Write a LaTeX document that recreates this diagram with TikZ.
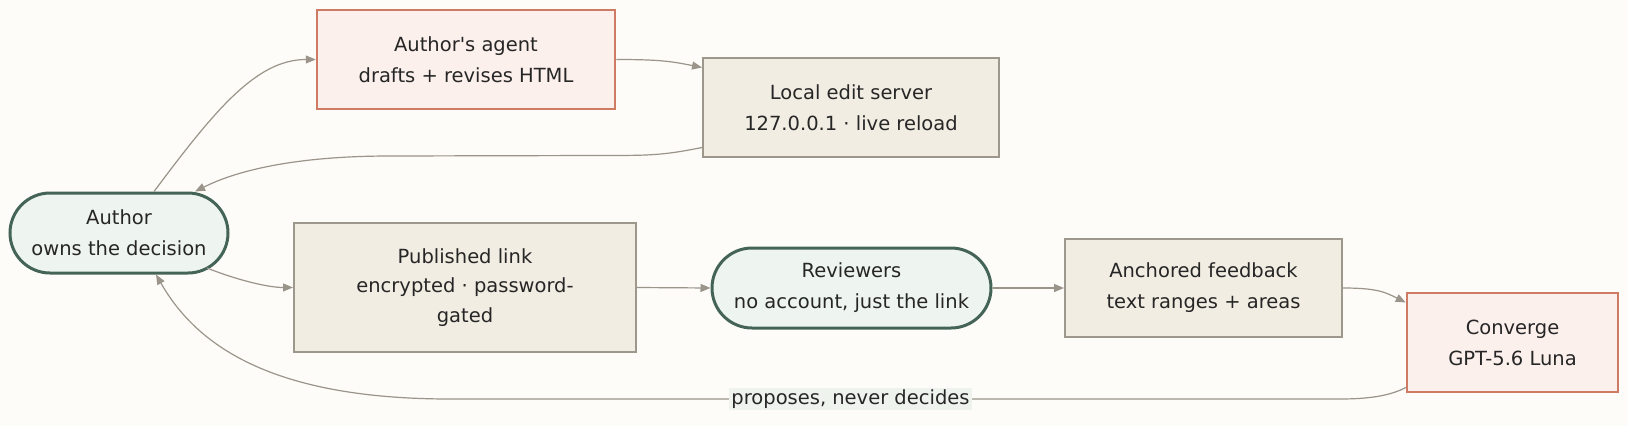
\documentclass[tikz,border=0pt]{standalone}
\usepackage{fontspec}
\setmainfont{DejaVu Sans}
\usetikzlibrary{positioning}
\usetikzlibrary{arrows.meta}

\definecolor{paper}{HTML}{FDFCF8}
\definecolor{ink}{HTML}{262626}
\definecolor{warmfill}{HTML}{FCF0EC}
\definecolor{warmline}{HTML}{CF7A62}
\definecolor{sandfill}{HTML}{F2EDE3}
\definecolor{sandline}{HTML}{9E978C}
\definecolor{actfill}{HTML}{EEF4F0}
\definecolor{actline}{HTML}{456458}
\definecolor{wire}{HTML}{9A948A}
\definecolor{tagfill}{HTML}{EEF3EE}

\begin{document}
\begin{tikzpicture}[x=1pt,y=-1pt,
    box/.style={draw, align=center, inner sep=0pt, text=ink,
      font=\fontsize{19.5}{31}\selectfont},
    agentbox/.style={box, fill=warmfill, draw=warmline, line width=2.5pt},
    plainbox/.style={box, fill=sandfill, draw=sandline, line width=2pt},
    actor/.style={box, fill=actfill, draw=actline, line width=3pt,
      rounded corners=40pt},
    edge/.style={draw=wire, line width=1.2pt,
      -{Triangle[length=10pt,width=8pt]}}]

  \fill[paper] (0,0) rectangle (1628,426);
  \useasboundingbox (0,0) rectangle (1628,426);

  % nodes
  \node[actor, minimum width=218pt, minimum height=80pt] (author) at (119,233)
    {Author\\owns the decision};
  \node[agentbox, minimum width=298pt, minimum height=99pt] (agent) at (466,59.5)
    {Author\textquotesingle s agent\\drafts + revises HTML};
  \node[plainbox, minimum width=296pt, minimum height=99pt] (server) at (851,107.5)
    {Local edit server\\127.0.0.1 · live reload};
  \node[plainbox, minimum width=342pt, minimum height=129pt,
    font=\fontsize{19.5}{29.5}\selectfont] (published) at (465,287.5)
    {Published link\\encrypted · password-\\gated};
  \node[actor, minimum width=279pt, minimum height=80pt] (reviewers) at (851.5,288)
    {Reviewers\\no account, just the link};
  \node[plainbox, minimum width=277pt, minimum height=98pt] (anchored) at (1203.5,288)
    {Anchored feedback\\text ranges + areas};
  \node[agentbox, minimum width=211pt, minimum height=99pt] (converge) at (1512.5,342.5)
    {Converge\\GPT-5.6 Luna};

  % connectors
  \draw[edge] ([shift={(35,0)}]author.north)
    .. controls +(60,-80) and +(-60,0) .. (agent.west);
  \draw[edge] (agent.east)
    .. controls +(45,0) and +(-30,-6) .. ([shift={(0,-40)}]server.west);

  \coordinate (retR) at (600,155.5);
  \coordinate (retL) at (390,156);
  \draw[edge] ([shift={(0,40)}]server.west)
    .. controls +(-40,8) and +(50,0) .. (retR) -- (retL)
    .. controls +(-80,0) and +(50,-25) .. ([shift={(76,0)}]author.north);

  \draw[edge] ([shift={(88,35)}]author.center)
    .. controls +(30,12) and +(-25,0) .. (published.west);
  \draw[edge] (published.east) -- (reviewers.west);
  \draw[edge] (reviewers.east) -- (anchored.west);
  \draw[edge] (anchored.east)
    .. controls +(35,0) and +(-20,-10) .. ([shift={(0,-40)}]converge.west);

  \coordinate (backR) at (1340,399);
  \coordinate (backL) at (450,399);
  \draw[edge] ([shift={(0,45)}]converge.west)
    .. controls +(-15,8) and +(30,0) .. (backR)
    -- node[pos=0.55, fill=tagfill, inner sep=2pt, text=ink,
         font=\fontsize{19.5}{24}\selectfont] (tag) {proposes, never decides} (backL)
    .. controls +(-180,0) and +(40,70) .. ([shift={(37,0)}]author.south);
\end{tikzpicture}
\end{document}
